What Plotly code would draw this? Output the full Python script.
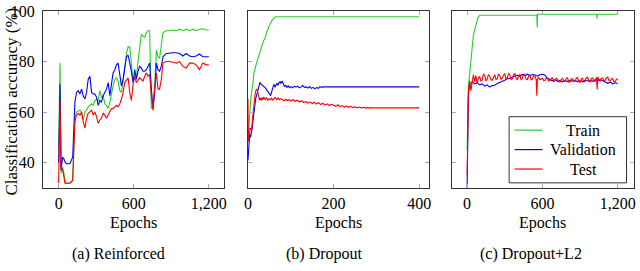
import plotly.graph_objects as go

# ---------------- data ----------------
# (a) Reinforced
rf_epochs = [0, 11, 19, 32, 42, 50, 64, 90, 112, 122, 130, 143, 157, 170, 183, 196, 210, 223, 236, 250,
             263, 276, 289, 303, 316, 329, 342, 356, 369, 382, 396, 409, 422, 435, 449, 462, 475, 489, 502, 515,
             528, 542, 555, 568, 581, 595, 608, 621, 634, 648, 661, 674, 688, 701, 714, 727, 741, 754, 767, 781,
             794, 807, 820, 834, 860, 887, 913, 940, 966, 993, 1019, 1046, 1072, 1099, 1125, 1152, 1179, 1200]
rf_train = [46.0, 79.4, 35.8, 38.3, 35.8, 33.0, 31.9, 31.9, 33.0, 52.4, 57.6, 60.1, 60.4, 60.8, 60.1, 56.9, 60.1, 60.8, 62.1, 62.7,
            63.3, 62.7, 64.6, 65.2, 64.6, 68.5, 65.9, 66.5, 63.3, 62.7, 61.4, 64.0, 67.8, 70.4, 72.9, 73.6, 72.3, 68.5, 67.8, 72.9,
            76.8, 83.2, 85.8, 85.8, 79.4, 71.7, 74.2, 73.6, 80.0, 87.1, 90.9, 90.0, 89.6, 91.5, 92.2, 92.2, 61.4, 62.7, 70.4, 84.5,
            81.9, 81.3, 87.1, 91.5, 92.2, 92.2, 92.5, 92.2, 92.8, 92.2, 92.8, 92.2, 92.8, 92.2, 92.8, 93.0, 92.5, 92.5]
rf_val = [40.0, 71.0, 37.1, 42.2, 41.5, 40.3, 39.6, 39.6, 42.2, 57.6, 64.0, 67.8, 68.5, 67.2, 69.1, 66.5, 65.2, 67.8, 72.9, 74.2,
          67.8, 67.2, 67.2, 65.9, 62.7, 64.6, 64.0, 66.5, 67.8, 69.1, 71.7, 66.5, 71.0, 75.5, 76.8, 78.7, 79.4, 74.2, 70.4, 72.9,
          78.1, 81.9, 82.6, 80.0, 76.2, 71.7, 76.8, 72.9, 76.2, 78.1, 77.4, 76.2, 76.2, 76.8, 78.1, 79.4, 69.1, 61.4, 67.8, 79.4,
          76.8, 76.2, 78.1, 81.9, 83.2, 83.5, 83.5, 83.5, 83.2, 82.2, 83.2, 82.2, 81.9, 82.2, 83.0, 81.9, 81.9, 81.9]
rf_test = [31.9, 64.6, 38.3, 37.1, 34.5, 31.9, 31.9, 31.9, 33.0, 44.7, 56.3, 58.8, 59.5, 58.8, 60.1, 56.3, 53.7, 57.6, 59.5, 60.1,
           60.8, 58.8, 60.1, 58.2, 55.6, 56.9, 57.6, 59.5, 58.8, 57.6, 58.8, 60.1, 61.4, 61.4, 62.1, 62.7, 62.1, 63.3, 65.2, 67.8,
           71.7, 72.9, 73.6, 67.8, 64.6, 71.0, 74.2, 71.7, 72.9, 73.6, 72.9, 72.3, 74.2, 75.5, 74.2, 74.9, 66.5, 60.8, 69.1, 75.5,
           69.1, 69.1, 72.9, 79.4, 80.0, 80.0, 79.7, 79.4, 80.0, 78.1, 77.4, 79.4, 79.4, 78.7, 76.8, 79.4, 78.7, 78.7]

# (b) Dropout
do_train_epochs = [0, 2, 4, 6, 8, 10, 12, 14, 16, 18, 20, 22, 25, 29, 33, 37, 41, 45, 49, 53, 57, 61, 64, 400]
do_train = [48.0, 55.0, 60.1, 64.0, 67.0, 69.1, 72.0, 75.5, 77.0, 78.5, 79.5, 80.6, 82.0, 84.5, 86.5, 88.3, 89.6, 92.2,
            94.0, 95.4, 96.5, 97.3, 97.7, 97.7]
do_val_epochs = [0, 2, 4, 6, 8, 10, 12, 14, 16, 18, 20, 22, 24, 26, 28, 30, 33, 36, 38, 41, 44, 47, 50, 53, 55, 57, 59,
                 61, 63, 65, 68, 70, 72, 75, 77, 80, 82, 85, 88, 91, 94, 97, 100, 104, 108, 112, 116, 120, 124, 128,
                 132, 136, 140, 144, 148, 152, 156, 160, 164, 168, 172, 176, 400]
do_val = [40.9, 46.0, 51.2, 50.0, 51.5, 53.7, 57.0, 60.1, 63.0, 65.3, 66.5, 67.8, 69.5, 71.0, 71.8, 71.2, 70.8, 70.2, 69.8,
          69.5, 68.8, 68.0, 67.2, 66.5, 67.8, 69.5, 70.2, 71.0, 69.8, 70.5, 71.4, 70.6, 71.5, 72.0, 71.3, 72.3, 71.0, 70.2,
          70.6, 69.8, 70.4, 69.7, 70.1, 69.6, 70.2, 69.9, 70.3, 69.6, 70.0, 70.5, 69.8, 70.0, 69.5, 70.1, 69.4, 69.8, 69.2,
          69.7, 69.4, 70.1, 69.8, 70.0, 70.0]
do_test_epochs = [0, 1, 2, 3, 5, 7, 9, 11, 13, 15, 17, 19, 21, 23, 25, 27, 29, 31, 33, 35, 37, 40, 43, 46, 49, 52, 55, 58,
                  61, 64, 67, 70, 73, 76, 80, 84, 88, 92, 96, 100, 105, 110, 115, 120, 125, 130, 135, 140, 145, 150, 155,
                  160, 165, 170, 175, 180, 185, 190, 195, 200, 205, 210, 215, 220, 225, 230, 235, 240, 245, 250, 255, 260,
                  265, 270, 275, 280, 285, 400]
do_test = [65.3, 48.5, 52.0, 51.0, 53.7, 53.0, 54.0, 58.0, 62.0, 65.0, 67.5, 68.8, 69.1, 67.8, 66.0, 64.8, 65.6, 64.6, 65.8,
           64.9, 66.0, 65.1, 65.6, 64.7, 65.3, 64.9, 65.5, 64.8, 65.4, 65.8, 65.0, 65.6, 64.9, 65.3, 65.0, 64.5, 65.1, 64.6,
           65.0, 64.4, 64.9, 64.3, 64.7, 64.0, 64.5, 63.8, 64.2, 63.6, 64.0, 63.4, 63.9, 63.2, 63.7, 63.0, 63.5, 62.8, 63.3,
           62.6, 63.1, 62.7, 62.3, 62.9, 62.2, 62.6, 62.0, 62.4, 61.9, 62.3, 61.8, 62.1, 61.7, 62.0, 61.6, 61.9, 61.6, 61.8,
           61.7, 61.7]

# (c) Dropout+L2
l2_train_epochs = [0, 4, 10, 20, 30, 40, 50, 60, 70, 85, 100, 120, 555, 558, 561, 1032, 1035, 1038, 1200]
l2_train = [45.0, 62.0, 70.0, 75.0, 80.5, 87.0, 90.5, 92.5, 94.5, 97.2, 98.3, 98.3, 98.3, 93.5, 98.7, 98.7, 97.0, 98.7, 98.7]
l2_val_epochs = [0, 3, 6, 10, 15, 20, 40, 60, 80, 100, 120, 140, 160, 180, 200, 220, 240, 260, 280, 300, 320, 340, 360,
                 380, 400, 420, 440, 460, 480, 500, 520, 540, 560, 580, 600, 620, 640, 660, 680, 700, 720, 740, 760, 780,
                 800, 820, 840, 860, 880, 900, 920, 940, 960, 980, 1000, 1020, 1040, 1060, 1080, 1100, 1120, 1140, 1160,
                 1180, 1200]
l2_val = [30.0, 48.0, 60.0, 66.0, 69.0, 70.5, 72.0, 71.2, 71.6, 70.8, 71.2, 70.3, 70.8, 69.9, 70.5, 70.6, 71.3, 71.6, 72.2,
          72.6, 73.2, 73.4, 74.0, 74.3, 74.6, 74.2, 74.9, 74.4, 75.0, 74.5, 74.9, 74.7, 74.2, 74.8, 75.0, 74.6, 73.4, 72.8,
          72.4, 72.9, 72.2, 72.6, 72.0, 72.5, 72.1, 72.7, 72.2, 72.6, 72.0, 72.5, 72.1, 72.7, 72.3, 72.6, 72.2, 72.8, 72.4,
          72.9, 72.3, 71.8, 71.4, 71.9, 71.2, 71.6, 71.3]
l2_test_epochs = [0, 3, 6, 10, 15, 20, 30, 40, 50, 60, 70, 80, 90, 100, 110, 120, 130, 140, 150, 160, 170, 180, 190, 200,
                  210, 220, 230, 240, 250, 260, 270, 280, 290, 300, 310, 320, 330, 340, 350, 360, 370, 380, 390, 400,
                  410, 420, 430, 440, 450, 460, 470, 480, 490, 500, 510, 520, 530, 540, 550, 555, 560, 570, 580, 590,
                  600, 610, 620, 630, 640, 650, 660, 670, 680, 690, 700, 710, 720, 730, 740, 750, 760, 770, 780, 790,
                  800, 810, 820, 830, 840, 850, 860, 870, 880, 890, 900, 910, 920, 930, 940, 950, 960, 970, 980, 990,
                  1000, 1010, 1020, 1030, 1036, 1040, 1050, 1060, 1070, 1080, 1090, 1100, 1110, 1120, 1130, 1140, 1150,
                  1160, 1170, 1180, 1190, 1200]
l2_test = [35.0, 52.0, 62.0, 68.0, 70.0, 72.5, 68.5, 71.0, 74.8, 72.0, 74.5, 71.2, 73.6, 74.0, 72.2, 72.8, 75.0, 74.6, 72.4,
           73.0, 74.9, 74.2, 72.8, 72.6, 74.0, 74.8, 72.9, 73.2, 75.1, 74.5, 73.0, 73.4, 74.6, 75.2, 73.1, 73.6, 75.3, 74.8,
           72.9, 73.2, 74.7, 75.4, 73.4, 72.8, 74.4, 74.9, 72.7, 73.4, 75.0, 75.0, 73.0, 72.9, 74.3, 74.6, 72.8, 73.1, 74.5,
           74.2, 73.0, 66.5, 73.0, 73.6, 72.8, 73.2, 73.4, 72.5, 72.6, 73.5, 73.2, 72.3, 72.4, 73.3, 73.6, 72.1, 72.5, 73.4,
           73.1, 72.0, 71.9, 73.0, 73.3, 72.2, 72.2, 73.4, 73.5, 71.8, 72.0, 73.1, 73.2, 72.4, 72.1, 73.5, 73.6, 72.0, 71.8,
           73.2, 73.4, 71.9, 72.3, 73.6, 73.8, 72.2, 72.0, 73.3, 73.5, 72.1, 72.4, 73.7, 69.0, 74.0, 72.6, 72.3, 73.5, 73.4,
           72.2, 72.6, 73.6, 73.8, 72.5, 72.4, 73.2, 73.3, 72.0, 72.1, 73.1, 73.0]

series_names = ["Train", "Validation", "Test"]
y_ticks = [40, 60, 80, 100]
x_ticks_long = [0, 600, 1200]
x_tick_text_long = ["0", "600", "1,200"]
x_ticks_short = [0, 200, 400]
x_tick_text_short = ["0", "200", "400"]
captions = ["(a) Reinforced", "(b) Dropout", "(c) Dropout+L2"]

# ---------------- styling ----------------
FONT = "'Liberation Serif', 'Times New Roman', serif"
GREEN = "rgb(40,205,40)"
BLUE = "rgb(0,0,255)"
RED = "rgb(255,0,0)"
LW = 1.1

W, H = 640, 271
ML, MR, MT, MB = 43, 3, 6, 83
PW = W - ML - MR
PH = H - MT - MB


def px_x(p):
    return (p - ML) / PW


def px_y(p):
    return (H - MB - p) / PH


fig = go.Figure()

panels = [
    ("x", "y", rf_epochs, rf_train, rf_epochs, rf_val, rf_epochs, rf_test),
    ("x2", "y2", do_train_epochs, do_train, do_val_epochs, do_val, do_test_epochs, do_test),
    ("x3", "y3", l2_train_epochs, l2_train, l2_val_epochs, l2_val, l2_test_epochs, l2_test),
]
colors = [GREEN, BLUE, RED]
for i, (xa, ya, e1, v1, e2, v2, e3, v3) in enumerate(panels):
    for j, (ex, vy) in enumerate([(e1, v1), (e2, v2), (e3, v3)]):
        fig.add_trace(go.Scatter(
            x=ex, y=vy, mode="lines", xaxis=xa, yaxis=ya,
            line=dict(color=colors[j], width=LW),
            name=series_names[j], legendgroup=series_names[j], showlegend=False,
        ))

domains = [(px_x(43), px_x(225)), (px_x(249), px_x(431)), (px_x(454), px_x(637))]
xranges = [[-125, 1322], [0, 423], [-121, 1329]]
xtickvals = [x_ticks_long, x_ticks_short, x_ticks_long]
xticktext = [x_tick_text_long, x_tick_text_short, x_tick_text_long]

axis_common = dict(
    showline=True, linecolor="#333", linewidth=1, mirror="ticks",
    ticks="inside", ticklen=4, tickcolor="#aaa", tickwidth=1,
    showgrid=False, zeroline=False, ticklabeloverflow="allow",
    tickfont=dict(family=FONT, size=16, color="black"),
)

layout = dict(
    width=W, height=H,
    margin=dict(l=ML, r=MR, t=MT, b=MB, pad=0),
    paper_bgcolor="white", plot_bgcolor="white",
    showlegend=False,
    font=dict(family=FONT, size=16, color="black"),
)
for i in range(3):
    sx = "" if i == 0 else str(i + 1)
    layout["xaxis" + sx] = dict(
        domain=list(domains[i]), range=xranges[i], anchor="y" + sx,
        tickvals=xtickvals[i], ticktext=xticktext[i], ticklabelstandoff=1, **axis_common,
    )
    layout["yaxis" + sx] = dict(
        domain=[0, 1], range=[30, 100], anchor="x" + sx,
        tickvals=y_ticks, showticklabels=(i == 0), ticklabelstandoff=4, **axis_common,
    )
fig.update_layout(**layout)

# legend box (drawn in the style of the original pgfplots legend)
shapes = [dict(type="rect", xref="paper", yref="paper",
               x0=px_x(511.5), x1=px_x(629.5), y0=px_y(182.7), y1=px_y(114.7),
               line=dict(color="#333", width=1), fillcolor="white", layer="above")]
ann = []
for j, ly in enumerate([128.5, 148.5, 168.5]):
    shapes.append(dict(type="line", xref="paper", yref="paper",
                       x0=px_x(517), x1=px_x(545), y0=px_y(ly), y1=px_y(ly),
                       line=dict(color=colors[j], width=1.2), layer="above"))
    ann.append(dict(text=series_names[j], x=px_x(586), y=px_y(ly), xref="paper", yref="paper",
                    showarrow=False, font=dict(family=FONT, size=16, color="black"),
                    xanchor="center", yanchor="middle"))

# axis titles and captions
ann.append(dict(text="Classification accuracy (%)", x=px_x(11), y=px_y(99), xref="paper", yref="paper",
                textangle=-90, showarrow=False, font=dict(family=FONT, size=17, color="black"),
                xanchor="center", yanchor="middle"))
for cx in [134, 340, 545.5]:
    ann.append(dict(text="Epochs", x=px_x(cx), y=px_y(224), xref="paper", yref="paper", showarrow=False,
                    font=dict(family=FONT, size=16, color="black"), xanchor="center", yanchor="middle"))
for cx, cap in zip([119, 326, 533], captions):
    ann.append(dict(text=cap, x=px_x(cx), y=px_y(256), xref="paper", yref="paper", showarrow=False,
                    font=dict(family=FONT, size=16, color="black"), xanchor="center", yanchor="middle"))
fig.update_layout(annotations=ann, shapes=shapes)

fig.write_html("out.html", config={"displayModeBar": False},
               post_script="document.body.style.margin='0';")
